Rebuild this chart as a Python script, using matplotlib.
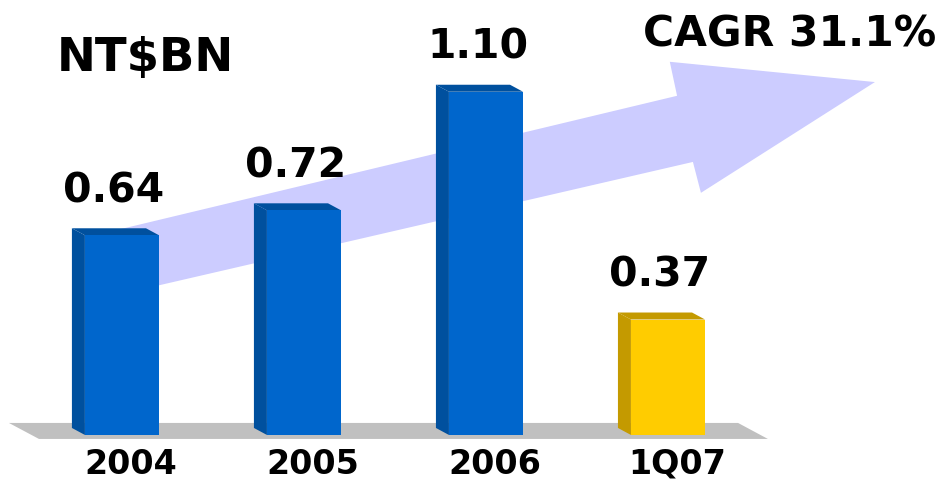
import matplotlib.pyplot as plt
from matplotlib.patches import Polygon

# revenue, NT$ billion
periods = ["2004", "2005", "2006", "1Q07"]
revenue = [0.64, 0.72, 1.10, 0.37]
value_labels = ["0.64", "0.72", "1.10", "0.37"]
unit_label = "NT$BN"
cagr_label = "CAGR 31.1%"

front_colors = ["#0066CC", "#0066CC", "#0066CC", "#FFCC00"]
shade_colors = ["#00509E", "#00509E", "#00509E", "#C49A00"]

bar_w = 0.407
dx, dy = 0.0714, 0.0224   # fake 3d depth (left / up)

fig = plt.figure(figsize=(9.47, 4.83), dpi=100)
ax = fig.add_axes([0, 0, 1, 1])
ax.set_xlim(-0.670, 4.533)
ax.set_ylim(-0.154, 1.394)
ax.axis("off")

xs = list(range(len(periods)))

# grey floor under the bars
floor = Polygon([(-0.456, -0.0128), (3.549, -0.0128), (3.385, 0.0385), (-0.621, 0.0385)],
                closed=True, facecolor="#C0C0C0", edgecolor="none", zorder=1)
ax.add_patch(floor)

# growth arrow behind the bars
arrow = Polygon([(-0.12, 0.644), (3.05, 1.087), (3.01, 1.196), (4.137, 1.131),
                 (3.181, 0.776), (3.137, 0.875), (-0.12, 0.436)],
                closed=True, facecolor="#CCCCFF", edgecolor="none", zorder=2)
ax.add_patch(arrow)

for x, v, fc, sc in zip(xs, revenue, front_colors, shade_colors):
    x0, x1 = x - bar_w / 2, x + bar_w / 2
    side = Polygon([(x0, 0), (x0 - dx, dy), (x0 - dx, v + dy), (x0, v)],
                   closed=True, facecolor=sc, edgecolor="none", zorder=3)
    top = Polygon([(x0, v), (x0 - dx, v + dy), (x1 - dx, v + dy), (x1, v)],
                  closed=True, facecolor=sc, edgecolor="none", zorder=3)
    ax.add_patch(side)
    ax.add_patch(top)

ax.bar(xs, revenue, width=bar_w, color=front_colors, edgecolor="none", zorder=4)

bold = dict(family="DejaVu Sans", fontweight="bold", color="black")

for x, v, lab in zip(xs, revenue, value_labels):
    ax.text(x - 0.044, v + 0.105, lab, ha="center", va="baseline", fontsize=29.5, zorder=5, **bold)

for x, lab in zip(xs, periods):
    ax.text(x + 0.05, -0.125, lab, ha="center", va="baseline", fontsize=24, zorder=5, **bold)

fig.text(0.060, 0.853, unit_label, ha="left", va="baseline", fontsize=33.5, **bold)
fig.text(0.834, 0.903, cagr_label, ha="center", va="baseline", fontsize=30.5, **bold)

fig.savefig("out.png", dpi=100)
